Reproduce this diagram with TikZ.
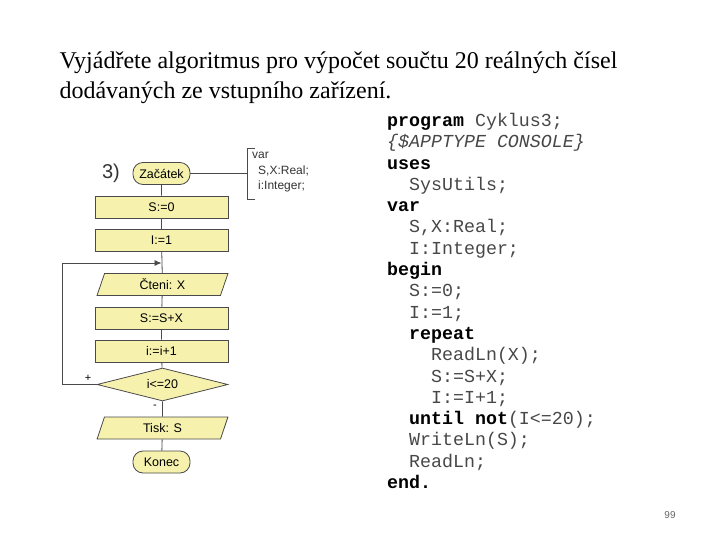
\documentclass[tikz,border=0pt]{standalone}
\usepackage{fontspec}
\setmainfont{Liberation Serif}
\setsansfont{Liberation Sans}
\setmonofont{Liberation Mono}
\usetikzlibrary{shapes.geometric, arrows.meta}

\definecolor{boxfill}{HTML}{F6F2AE}
\definecolor{boxline}{HTML}{4A4A4A}

\tikzset{
    block/.style={draw=boxline, fill=boxfill, thick, minimum width=133pt, minimum height=22pt, inner sep=0pt,
        font=\sffamily\fontsize{12.5}{14}\selectfont},
    term/.style={block, rounded corners=10pt, minimum width=57pt},
    io/.style={block, trapezium, trapezium left angle=75, trapezium right angle=105,
        trapezium stretches=true, minimum width=131pt},
    test/.style={block, diamond, aspect=4, minimum width=131pt, minimum height=33pt},
    flow/.style={boxline, thick}
}

\begin{document}
\begin{tikzpicture}[x=1pt, y=-1pt, >={Latex[length=7pt,width=6pt]}]
    \useasboundingbox (0,0) rectangle (720,540);

    % title
    \node[anchor=west, align=left, font=\fontsize{24}{30}\selectfont] (title) at (56,78)
        {Vyjádřete algoritmus pro výpočet součtu 20 reálných čísel\\dodávaných ze vstupního zařízení.};

    % flowchart
    \node[font=\sffamily\fontsize{20}{22}\selectfont, text=black!80] (num) at (111,173) {3)};
    \node[term] (start) at (161.5,173.5) {Začátek};
    \node[block] (s0) at (161.5,207) {S:=0};
    \node[block] (i1) at (161.5,240.5) {I:=1};
    \coordinate (loopin) at (161.5,263);
    \node[io] (read) at (162.5,284.5) {Čteni: X};
    \node[block] (sum) at (161.5,318) {S:=S+X};
    \node[block] (inc) at (161.5,351) {i:=i+1};
    \node[test] (cond) at (162.5,384.5) {i<=20};
    \node[io] (print) at (162.5,428) {Tisk: S};
    \node[term] (stop) at (161.5,462) {Konec};

    \draw[flow] (start) -- (s0) -- (i1) -- (read) -- (sum) -- (inc) -- (cond) -- (print) -- (stop);
    \coordinate (loopbot) at (62,384.5);
    \coordinate (looptop) at (62,263);
    \draw[flow, ->] (cond.west) -- (loopbot) -- (looptop) -- (loopin);
    \node[font=\sffamily\fontsize{11}{12}\selectfont] (plus) at (88,378) {+};
    \node[font=\sffamily\fontsize{11}{12}\selectfont] (minus) at (155,407) {-};

    % declarations
    \coordinate (brtop) at (255,148);
    \coordinate (brbot) at (255,199);
    \draw[flow] (start.east) -- (247,173.5);
    \draw[flow] (brtop) -- (247,148) -- (247,199) -- (brbot);
    \node[anchor=north west, align=left, inner sep=0pt, font=\sffamily\fontsize{12}{15.5}\selectfont, text=black!80]
        (decl) at (252,152) {var\\\hspace{6pt}S,X:Real;\\\hspace{6pt}i:Integer;};

    % pascal code
    \node[anchor=north west, align=left, inner sep=0pt, text=black!72,
          font=\ttfamily\fontsize{18.3}{21.3}\selectfont] (code) at (387,113) {%
        \textbf{\color{black}program} Cyklus3;\\
        \textit{\{\$APPTYPE CONSOLE\}}\\
        \textbf{\color{black}uses}\\
        \ \ SysUtils;\\
        \textbf{\color{black}var}\\
        \ \ S,X:Real;\\
        \ \ I:Integer;\\
        \textbf{\color{black}begin}\\
        \ \ S:=0;\\
        \ \ I:=1;\\
        \ \ \textbf{\color{black}repeat}\\
        \ \ \ \ ReadLn(X);\\
        \ \ \ \ S:=S+X;\\
        \ \ \ \ I:=I+1;\\
        \ \ \textbf{\color{black}until not}(I<=20);\\
        \ \ WriteLn(S);\\
        \ \ ReadLn;\\
        \textbf{\color{black}end.}};

    % page number
    \node[font=\sffamily\fontsize{10}{12}\selectfont, text=black!60] (page) at (670,515) {99};
\end{tikzpicture}
\end{document}
